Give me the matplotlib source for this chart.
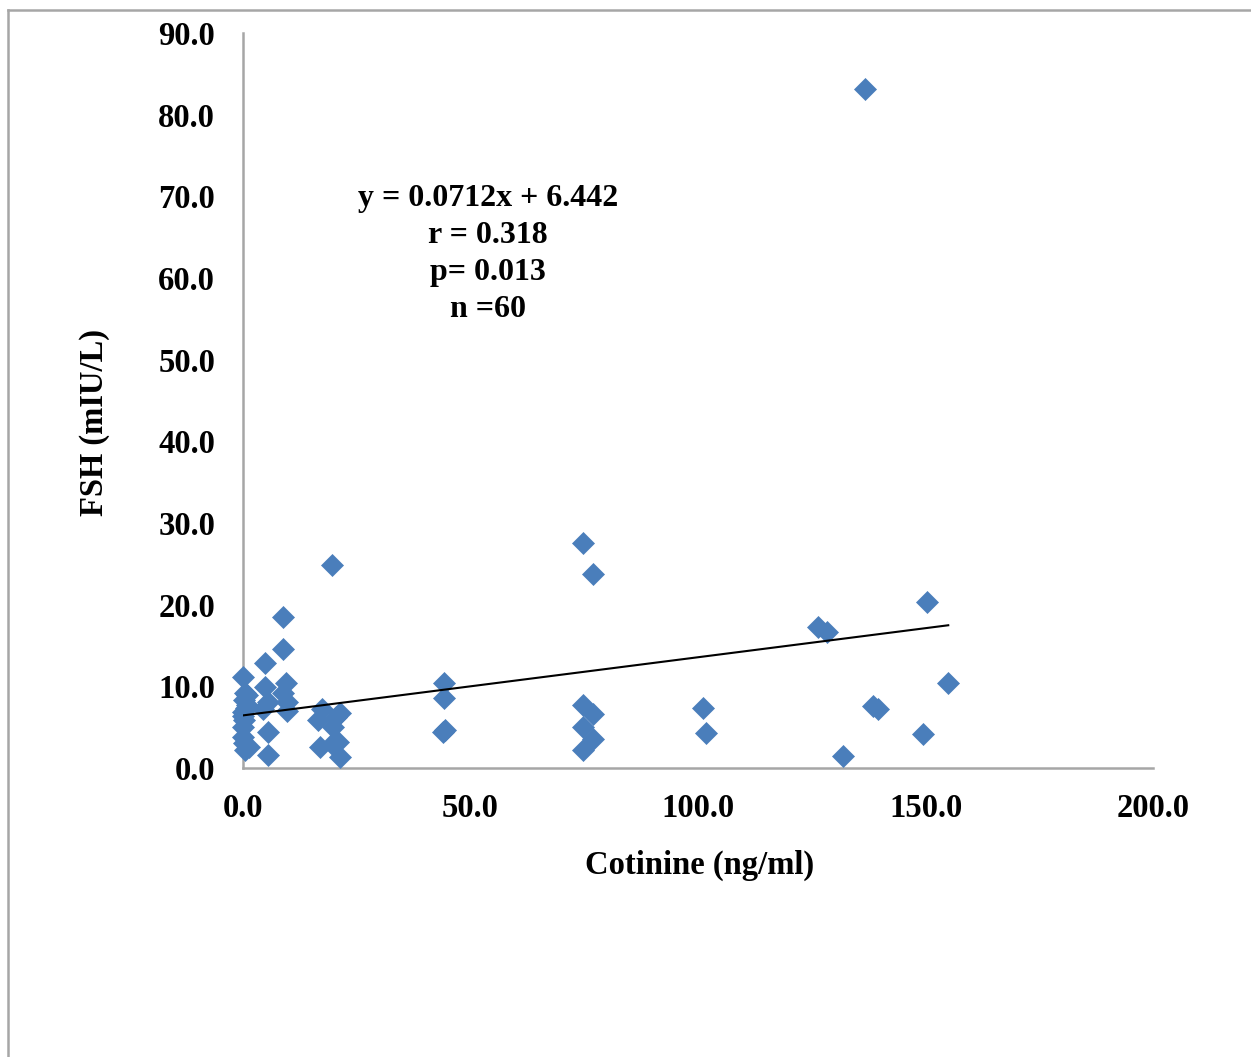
import matplotlib
matplotlib.use("Agg")
import matplotlib.pyplot as plt
from matplotlib.lines import Line2D
import numpy as np

# ---- data ----
cotinine = [
    0.1, 0.5, 0.2, 0.9, 0.0, 0.3, 0.1, 0.0, 0.2, 0.4, 0.8, 1.4, 0.0, 0.6,
    4.8, 8.8, 8.8, 4.8, 9.5, 8.8, 5.5, 9.7, 9.7, 4.4, 5.5, 5.5,
    17.4, 21.3, 16.5, 19.8, 17.0, 20.9, 21.3, 19.6, 20.5, 19.5,
    44.2, 44.2, 44.4, 44.0,
    74.7, 76.9, 74.7, 76.9, 74.7, 76.9, 74.7,
    101.1, 101.8,
    126.4, 128.4, 150.3, 155.0, 138.5, 139.6, 131.9, 149.5, 136.7,
]
fsh = [
    11.2, 9.2, 8.3, 7.7, 6.9, 5.9, 5.0, 3.8, 3.1, 2.2, 8.9, 2.6, 6.4, 7.3,
    12.8, 14.6, 18.5, 9.9, 10.4, 9.2, 8.1, 8.1, 7.0, 7.2, 4.4, 1.6,
    7.2, 6.7, 5.9, 5.0, 2.6, 3.2, 1.3, 3.0, 6.3, 24.9,
    10.4, 8.6, 4.6, 4.4,
    27.6, 23.7, 7.7, 6.6, 5.0, 3.5, 2.2,
    7.3, 4.3,
    17.3, 16.7, 20.3, 10.4, 7.6, 7.2, 1.5, 4.2, 83.1,
]
slope = 0.0712
intercept = 6.442
stats_lines = ["y = 0.0712x + 6.442", "r = 0.318", "p= 0.013", "n =60"]
x_ticks = [0, 50, 100, 150, 200]
y_ticks = [0, 10, 20, 30, 40, 50, 60, 70, 80, 90]
x_label = "Cotinine (ng/ml)"
y_label = "FSH (mIU/L)"

W, H = 1251, 1057
fig = plt.figure(figsize=(W / 100, H / 100), dpi=100)
fig.patch.set_facecolor("white")

ax = fig.add_axes([243 / W, 1 - 768 / H, (1153 - 243) / W, (768 - 33) / H])
ax.set_xlim(0, 200)
ax.set_ylim(0, 90)

serif = ["Liberation Serif", "DejaVu Serif"]
blue = "#4A7EBB"
axis_grey = "#A6A6A6"

ax.plot(cotinine, fsh, linestyle="none", marker="D", markersize=11,
        markerfacecolor=blue, markeredgecolor=blue, markeredgewidth=0.5,
        zorder=3, clip_on=False)

xfit = np.array([0.0, max(cotinine)])
ax.plot(xfit, slope * xfit + intercept, color="black", linewidth=1.5, zorder=4)

for side in ["top", "right"]:
    ax.spines[side].set_visible(False)
for side in ["left", "bottom"]:
    ax.spines[side].set_color(axis_grey)
    ax.spines[side].set_linewidth(1.8)

ax.set_xticks(x_ticks)
ax.set_yticks(y_ticks)
ax.set_xticklabels([f"{v:.1f}" for v in x_ticks])
ax.set_yticklabels([f"{v:.1f}" for v in y_ticks])
ax.tick_params(axis="both", length=0, labelsize=23.5)
ax.tick_params(axis="x", pad=18)
ax.tick_params(axis="y", pad=20)
for lab in ax.get_xticklabels() + ax.get_yticklabels():
    lab.set_fontfamily(serif)
    lab.set_fontweight("bold")

fig.text(700 / W, 1 - 865 / H, x_label, ha="center", va="center",
         fontsize=23.5, fontweight="bold", family=serif)
fig.text(95 / W, 1 - 422 / H, y_label, ha="center", va="center",
         rotation=90, fontsize=23.5, fontweight="bold", family=serif)

fig.text(488 / W, 1 - 254 / H, "\n".join(stats_lines), ha="center", va="center",
         fontsize=23, fontweight="bold", family=serif, linespacing=1.35)

# outer frame (left and top borders visible)
fig.add_artist(Line2D([8 / W, 8 / W], [0, 1 - 10 / H], transform=fig.transFigure,
                      color=axis_grey, linewidth=1.8))
fig.add_artist(Line2D([8 / W, 1], [1 - 10 / H, 1 - 10 / H], transform=fig.transFigure,
                      color=axis_grey, linewidth=1.8))

fig.savefig("out.png", dpi=100, facecolor="white")
